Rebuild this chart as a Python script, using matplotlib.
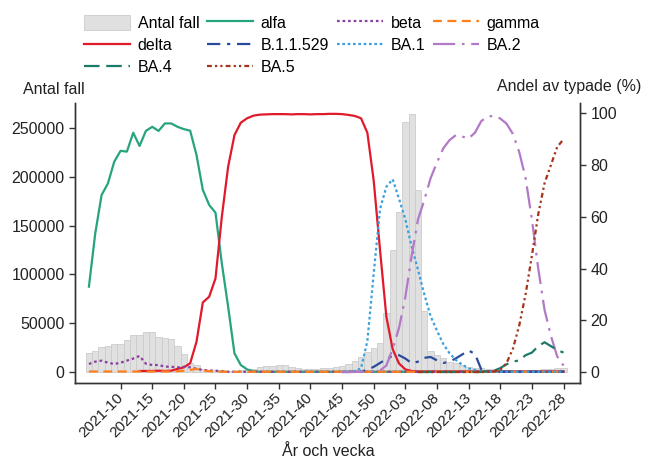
import numpy as np
import matplotlib
matplotlib.use("Agg")
import matplotlib.pyplot as plt
from matplotlib.patches import Patch
from matplotlib.lines import Line2D

plt.rcParams['font.family'] = ['Liberation Sans', 'DejaVu Sans']
plt.rcParams['font.size'] = 11.5

nan = np.nan

# weeks 2021-05 .. 2021-52, 2022-01 .. 2022-28
weeks = ["2021-%02d" % w for w in range(5, 53)] + ["2022-%02d" % w for w in range(1, 29)]
tick_labels = ["2021-10", "2021-15", "2021-20", "2021-25", "2021-30", "2021-35", "2021-40",
               "2021-45", "2021-50", "2022-03", "2022-08", "2022-13", "2022-18", "2022-23", "2022-28"]

antal_fall = [19800, 21500, 25900, 27000, 28400, 28400, 32800, 37900, 37900, 40600,
              40600, 35500, 34500, 33500, 26600, 18400, 9000, 7000, 3500, 2500,
              2000, 1800, 1500, 1500, 1600, 2000, 3000, 5500, 6000, 6000,
              7000, 7500, 5000, 4000, 3500, 3500, 3500, 4000, 4500, 5000,
              6500, 8500, 11500, 15000, 21000, 25000, 29300, 60000, 125500, 164000,
              256500, 264300, 186000, 62600, 22000, 17400, 14000, 10600, 8900, 7200,
              5400, 4500, 4000, 3200, 3000, 2500, 2000, 1800, 1800, 1800,
              2000, 2200, 2600, 3200, 3800, 4200]

alfa = [33.0, 53.6, 68.4, 72.9, 81.3, 85.5, 85.2, 92.5, 87.4, 93.2,
        94.8, 93.2, 96.1, 96.1, 94.8, 93.9, 93.3, 83.9, 70.4, 64.6,
        61.6, 42.0, 25.2, 7.2, 2.7, 1.0, 0.3, 0.1, 0.1, 0.1,
        0.1, 0.1, 0.1, 0.1, 0.1, 0.1, 0.1, 0.1, 0.1, 0.1,
        0.1, 0.1, 0.1, 0.1, 0.1, 0.1, 0.1, 0.1, 0.1, 0.1,
        0.1, 0.1, 0.1, 0.1, 0.1, 0.1, 0.1, 0.1, 0.1, 0.1,
        0.1, 0.1, 0.1, 0.1, 0.1, 0.1, 0.1, 0.1, 0.1, 0.1,
        0.1, 0.1, 0.1, 0.1, 0.1, 0.1]

delta = [nan, nan, nan, nan, nan, nan, nan, nan, 0.4, 0.4,
         0.4, 0.5, 0.4, 0.5, 1.2, 1.8, 3.4, 11.7, 26.9, 29.1,
         36.2, 60.0, 79.4, 91.6, 96.4, 98.1, 99.1, 99.5, 99.6, 99.7,
         99.7, 99.7, 99.6, 99.7, 99.7, 99.6, 99.7, 99.7, 99.8, 99.8,
         99.7, 99.4, 99.0, 98.1, 92.5, 74.0, 47.2, 21.4, 8.8, 3.3,
         1.0, 0.4, 0.2, 0.2, 0.2, 0.2, 0.2, 0.2, 0.2, 0.2,
         0.2, 0.2, 0.2, 0.2, 0.2, 0.2, 0.2, 0.2, 0.2, 0.2,
         0.2, 0.2, 0.2, 0.2, 0.2, 0.2]

beta = [3.1, 4.0, 4.4, 3.6, 3.1, 3.6, 4.4, 5.2, 6.2, 3.2,
        2.7, 2.7, 2.1, 2.0, 1.8, 2.0, 1.8, 1.2, 0.8, 0.6,
        0.5, 0.3, 0.1, 0.1, 0.1, 0.1, 0.1, 0.1, 0.1, 0.1,
        0.1, 0.1, 0.1, 0.1, 0.1, 0.1, 0.1, 0.1, 0.1, 0.1,
        0.1, 0.1, 0.1, 0.1, 0.1, 0.1, 0.1, 0.1, 0.1, 0.1,
        0.1, 0.1, 0.1, 0.1, 0.1, 0.1, 0.1, 0.1, 0.1, 0.1,
        0.1, 0.1, 0.1, 0.1, 0.1, 0.1, 0.1, 0.1, 0.1, 0.1,
        0.1, 0.1, 0.1, 0.1, 0.1, 0.1]

gamma = [0.2, 0.2, 0.2, 0.2, 0.2, 0.2, 0.2, 0.2, 0.2, 0.2,
         0.2, 0.2, 0.2, 0.2, 0.3, 0.5, 0.8, 1.2, 0.6, 0.3,
         0.2, 0.1, 0.1, 0.1, 0.1, 0.1, 0.1, 0.1, 0.1, 0.1,
         0.1, 0.1, 0.1, 0.1, 0.1, 0.1, 0.1, 0.1, 0.1, 0.1,
         0.1, 0.1, 0.1, 0.1, 0.1, 0.1, 0.1, 0.1, 0.1, 0.1,
         0.1, 0.1, 0.1, 0.1, 0.1, 0.1, 0.1, 0.1, 0.1, 0.1,
         0.1, 0.1, 0.1, 0.1, 0.1, 0.1, 0.1, 0.1, 0.1, 0.1,
         0.1, 0.1, 0.1, 0.1, 0.1, 0.1]

b11529 = [nan] * 40 + [0.0, 0.0, 0.1, 0.2, 0.8, 2.0, 3.5, 5.0, 6.3, 6.5,
                       5.2, 3.4, 4.0, 5.5, 5.8, 4.5, 3.5, 4.0, 5.3, 6.8,
                       8.3, 7.0, 1.0, 0.3, 0.1, 0.1, 0.1, 0.1, 0.1, 0.1,
                       0.1, 0.1, 0.1, 0.1, 0.1, 0.1]

ba1 = [nan] * 40 + [0.0, 0.1, 0.3, 1.4, 12.0, 38.0, 63.0, 71.6, 74.5, 67.0,
                    59.0, 48.5, 39.5, 30.0, 21.5, 16.0, 10.8, 7.2, 4.6, 2.8,
                    1.4, 0.8, 0.3, 0.1, 0.1, 0.1, 0.1, 0.1, 0.1, 0.1,
                    0.1, 0.1, 0.1, 0.1, 0.1, 0.1]

ba2 = [nan] * 40 + [0.0, 0.0, 0.0, 0.1, 0.2, 0.3, 0.6, 2.5, 9.0, 17.0,
                    29.0, 45.0, 59.0, 66.5, 75.0, 81.0, 86.5, 89.7, 91.6, 91.0,
                    90.3, 92.5, 97.0, 98.8, 99.0, 98.0, 96.0, 92.0, 85.0, 75.0,
                    59.0, 40.0, 24.0, 14.0, 6.0, 2.5]

ba4 = [nan] * 52 + [0.0, 0.0, 0.0, 0.0, 0.0, 0.0, 0.0, 0.0, 0.0, 0.0,
                    0.0, 0.3, 0.5, 1.5, 3.0, 4.0, 4.5, 6.5, 7.5, 10.0,
                    11.5, 10.0, 8.5, 7.5]

ba5 = [nan] * 52 + [0.0, 0.0, 0.0, 0.0, 0.0, 0.0, 0.0, 0.0, 0.0, 0.0,
                    0.0, 0.0, 0.2, 0.8, 3.5, 9.0, 18.0, 30.0, 45.0, 61.0,
                    73.0, 80.0, 87.0, 90.0]

x = np.arange(len(weeks))

fig = plt.figure(figsize=(6.49, 4.57), dpi=100)
ax = fig.add_axes([75 / 649, 1 - 383 / 457, (580 - 75) / 649, (383 - 103) / 457])
ax2 = ax.twinx()

ax.bar(x, antal_fall, width=1.0, color='#e0e0e0', edgecolor='#cccccc', linewidth=0.6)

lw = 1.6
series = [
    ("alfa", alfa, '#26a37f', '-'),
    ("delta", delta, '#e01a2a', '-'),
    ("beta", beta, '#8a3f9e', (0, (1.2, 1.3))),
    ("gamma", gamma, '#ff7f1e', (0, (4, 2.5))),
    ("B.1.1.529", b11529, '#2a4b9b', (0, (6, 3, 1.5, 3))),
    ("BA.1", ba1, '#3aa0de', (0, (1.2, 1.2))),
    ("BA.2", ba2, '#b27ac6', (0, (10, 3, 1.2, 3))),
    ("BA.4", ba4, '#1b7a68', (0, (7, 3, 7, 3, 1.5, 3))),
    ("BA.5", ba5, '#a3341a', (0, (2.2, 1.4, 1, 1.4, 1, 1.4))),
]
handles = {}
for name, vals, col, ls in series:
    ax2.plot(x, vals, color=col, linestyle=ls, linewidth=lw)
    handles[name] = Line2D([], [], color=col, linestyle=ls, linewidth=lw)
handles["Antal fall"] = Patch(facecolor='#e0e0e0', edgecolor='#cccccc', linewidth=0.6)

ax.set_xlim(-2.2, 77.6)
ax.set_ylim(-11270, 275600)
ax2.set_ylim(-4.25, 104.0)

ax.set_yticks([0, 50000, 100000, 150000, 200000, 250000])
ax.set_yticklabels(["0", "50000", "100000", "150000", "200000", "250000"])
ax2.set_yticks([0, 20, 40, 60, 80, 100])

tick_pos = [weeks.index(t) for t in tick_labels]
ax.set_xticks(tick_pos)
ax.set_xticklabels(tick_labels, rotation=45, ha='right', va='center', rotation_mode='anchor')

for a in (ax, ax2):
    a.spines['top'].set_visible(False)
    for s in a.spines.values():
        s.set_linewidth(1.0)
        s.set_color('#333333')
    a.tick_params(direction='out', length=4, width=1.0, colors='#333333', labelcolor='#222222')
ax.tick_params(axis='x', pad=5, labelsize=11)

fig.text(54 / 649, 1 - 89 / 457, "Antal fall", ha='center', va='center', color='#222222')
fig.text(569 / 649, 1 - 86 / 457, "Andel av typade (%)", ha='center', va='center', color='#222222')
fig.text(328 / 649, 1 - 451 / 457, "År och vecka", ha='center', va='center', color='#222222')

order = ["Antal fall", "delta", "BA.4", "alfa", "B.1.1.529", "BA.5", "beta", "BA.1", "gamma", "BA.2"]
fig.legend([handles[k] for k in order], order, ncol=4, loc='upper left',
           bbox_to_anchor=(84 / 649, 1 - 15 / 457), frameon=False, borderpad=0,
           borderaxespad=0, handlelength=2.9, handleheight=1.05, handletextpad=0.45,
           columnspacing=0.5, labelspacing=0.4)

fig.savefig("out.png", dpi=100)
